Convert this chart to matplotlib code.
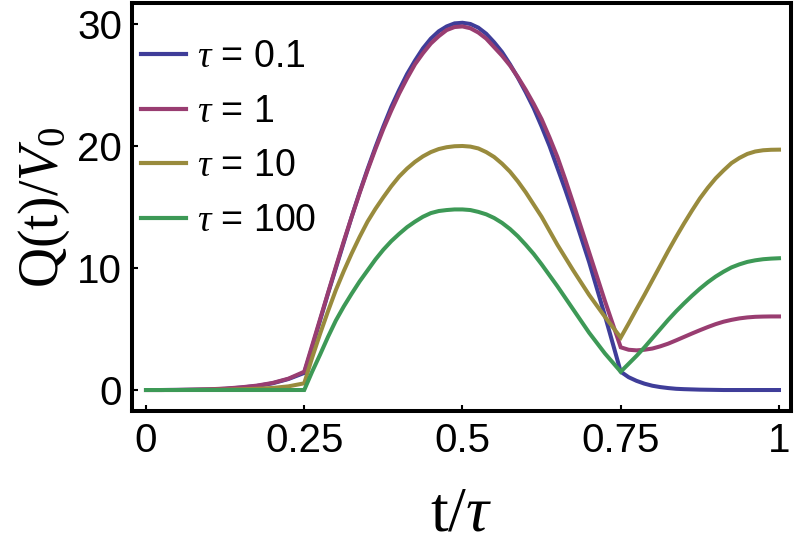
import matplotlib
matplotlib.use("Agg")
import matplotlib.pyplot as plt

plt.rcParams['mathtext.fontset'] = 'custom'
plt.rcParams['mathtext.rm'] = 'Liberation Serif'
plt.rcParams['mathtext.it'] = 'Liberation Serif:italic'

# sample grid t/tau
t = [0.0, 0.025, 0.05, 0.075, 0.1, 0.125, 0.15, 0.175, 0.2, 0.225,
     0.25, 0.2625, 0.275, 0.2875, 0.3, 0.3125, 0.325, 0.3375,
     0.35, 0.3625, 0.375, 0.3875, 0.4, 0.4125, 0.425, 0.4375,
     0.45, 0.4625, 0.475, 0.4875, 0.5, 0.5125, 0.525, 0.5375,
     0.55, 0.5625, 0.575, 0.5875, 0.6, 0.6125, 0.625, 0.6375,
     0.65, 0.6625, 0.675, 0.6875, 0.7, 0.7125, 0.725, 0.7375,
     0.75, 0.7625, 0.775, 0.7875, 0.8, 0.8125, 0.825, 0.8375,
     0.85, 0.8625, 0.875, 0.8875, 0.9, 0.9125, 0.925, 0.9375,
     0.95, 0.9625, 0.975, 0.9875, 1.0]

q_tau_01 = [0, 0, 0.01, 0.03, 0.05, 0.1, 0.2, 0.33, 0.55, 0.9,
            1.4, 3.5, 5.7, 7.9, 10.0, 12.1, 14.2, 16.2,
            18.1, 19.9, 21.6, 23.2, 24.6, 25.9, 27.0, 28.0,
            28.8, 29.4, 29.8, 30.05, 30.1, 30.0, 29.7, 29.2,
            28.5, 27.7, 26.7, 25.6, 24.4, 23.1, 21.6, 20.0,
            18.2, 16.4, 14.5, 12.5, 10.5, 8.3, 6.1, 3.8,
            1.5, 1.05, 0.75, 0.52, 0.35, 0.24, 0.16, 0.1,
            0.07, 0.05, 0.03, 0.02, 0.01, 0, 0, 0,
            0, 0, 0, 0, 0]

q_tau_1 = [0, 0, 0.01, 0.03, 0.06, 0.12, 0.22, 0.36, 0.58, 0.93,
           1.5, 3.65, 5.8, 7.95, 10.1, 12.2, 14.2, 16.15,
           18.0, 19.75, 21.4, 22.9, 24.3, 25.55, 26.7, 27.6,
           28.4, 29.0, 29.5, 29.75, 29.8, 29.65, 29.3, 28.8,
           28.1, 27.4, 26.6, 25.65, 24.6, 23.45, 22.2, 20.7,
           19.1, 17.25, 15.3, 13.3, 11.3, 9.3, 7.3, 5.4,
           3.5, 3.3, 3.25, 3.3, 3.4, 3.58, 3.8, 4.07,
           4.35, 4.63, 4.9, 5.16, 5.4, 5.6, 5.75, 5.87,
           5.95, 6.0, 6.02, 6.03, 6.03]

q_tau_10 = [0, 0, 0, 0.01, 0.02, 0.03, 0.06, 0.1, 0.17, 0.3,
            0.55, 2.65, 4.6, 6.45, 8.2, 9.75, 11.2, 12.55,
            13.8, 14.85, 15.8, 16.7, 17.5, 18.15, 18.7, 19.15,
            19.5, 19.75, 19.9, 19.98, 20.0, 19.95, 19.8, 19.5,
            19.1, 18.55, 17.9, 17.1, 16.2, 15.2, 14.2, 13.05,
            11.9, 10.85, 9.8, 8.8, 7.8, 6.9, 6.0, 5.15,
            4.3, 5.45, 6.64, 7.8, 9.0, 10.2, 11.4, 12.55,
            13.65, 14.7, 15.7, 16.57, 17.35, 18.0, 18.6, 19.02,
            19.35, 19.55, 19.65, 19.69, 19.7]

q_tau_100 = [0, 0, 0, 0, 0, 0, 0, 0, 0, 0,
             0, 1.5, 2.9, 4.35, 5.7, 6.85, 7.9, 8.9,
             9.8, 10.7, 11.5, 12.2, 12.8, 13.35, 13.8, 14.2,
             14.5, 14.67, 14.75, 14.8, 14.8, 14.75, 14.6, 14.4,
             14.1, 13.7, 13.2, 12.6, 11.9, 11.15, 10.3, 9.4,
             8.5, 7.55, 6.6, 5.65, 4.7, 3.85, 3.0, 2.25,
             1.5, 2.15, 2.8, 3.5, 4.25, 5.0, 5.75, 6.45,
             7.1, 7.72, 8.3, 8.83, 9.3, 9.7, 10.05, 10.3,
             10.5, 10.63, 10.72, 10.77, 10.8]

labels = [r'$\tau$ = 0.1', r'$\tau$ = 1', r'$\tau$ = 10', r'$\tau$ = 100']
colors = ['#3f3d99', '#993d71', '#998b3d', '#3d9956']
series = [q_tau_01, q_tau_1, q_tau_10, q_tau_100]

xticks = [0, 0.25, 0.5, 0.75, 1]
xticklabels = ['0', '0.25', '0.5', '0.75', '1']
yticks = [0, 10, 20, 30]
yticklabels = ['0', '10', '20', '30']

fig = plt.figure(figsize=(7.97, 5.44), dpi=100)
ax = fig.add_axes([132/797, 1 - 411/544, (791 - 132)/797, (411 - 3)/544])

for y, c, lab in zip(series, colors, labels):
    ax.plot(t, y, color=c, lw=2.9, label=lab, solid_joinstyle='miter')

ax.set_xlim(-0.0221, 1.019)
ax.set_ylim(-1.72, 31.72)

ax.set_xticks(xticks)
ax.set_xticklabels(xticklabels, family='Liberation Sans', fontsize=29)
ax.set_yticks(yticks)
ax.set_yticklabels(yticklabels, family='Liberation Sans', fontsize=29)
ax.tick_params(direction='in', length=4, width=1.5, top=False, right=False, pad=7)
ax.tick_params(axis='x', pad=8)

for sp in ax.spines.values():
    sp.set_linewidth(2.9)
    sp.set_color('black')

ax.set_xlabel(r't/$\tau$', family='Liberation Serif', fontsize=46, labelpad=19)
ax.set_ylabel(r'Q(t)/$V_0$', family='Liberation Serif', fontsize=40, labelpad=4)

leg = ax.legend(loc='upper left', bbox_to_anchor=(0.0137, 0.912), frameon=False,
                prop={'family': 'Liberation Sans', 'size': 27},
                handlelength=1.2, handletextpad=0.3, labelspacing=0.5,
                borderpad=0, borderaxespad=0)
for line in leg.get_lines():
    line.set_linewidth(3.0)

fig.savefig('out.png', dpi=100)
